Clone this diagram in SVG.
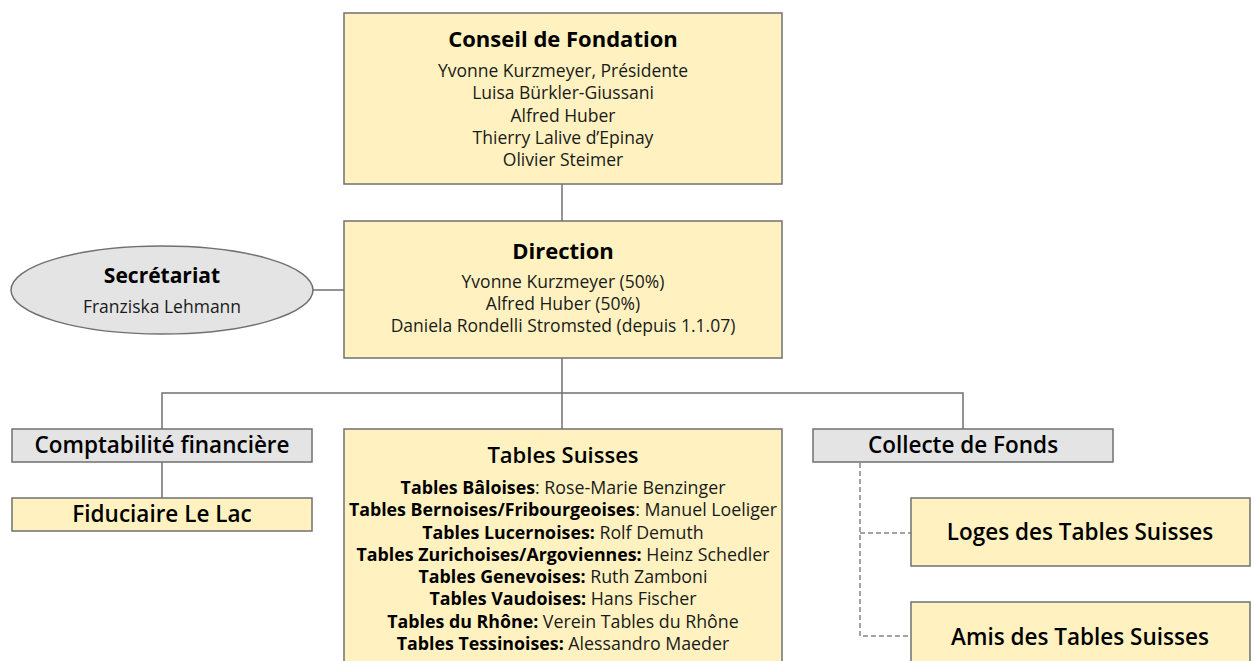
<svg xmlns="http://www.w3.org/2000/svg" width="1254" height="661" viewBox="0 0 1254 661">
<style>
.y{fill:#FFF2C0;stroke:#707070;stroke-width:1.5}
.g{fill:#E3E4E3;stroke:#707070;stroke-width:1.5}
.ln{fill:none;stroke:#707070;stroke-width:1.5}
.dl{fill:none;stroke:#858585;stroke-width:1.5;stroke-dasharray:5 3}
text{font-family:"Open Sans","Noto Sans","Liberation Sans",sans-serif;fill:#1a1a1a;text-anchor:middle}
.t{font-size:22px;font-weight:bold;fill:#000}
.h{font-size:22.5px;font-weight:600;fill:#000}
.b{font-size:17.5px}
.s{font-size:17.8px}
.s tspan.k{font-weight:bold;fill:#000}
</style>
<rect width="1254" height="661" fill="#fff"/>
<g id="connectors">
<line class="ln" x1="562" y1="184" x2="562" y2="221"/>
<line class="ln" x1="313" y1="290" x2="344" y2="290"/>
<line class="ln" x1="562" y1="358" x2="562" y2="429"/>
<polyline class="ln" points="162,429 162,393 963,393 963,429"/>
<line class="ln" x1="162" y1="462" x2="162" y2="498"/>
<polyline class="dl" points="860,463 860,636 911,636"/>
<line class="dl" x1="860" y1="533" x2="911" y2="533"/>
</g>
<g id="conseil">
<rect class="y" x="344" y="13" width="438" height="171"/>
<text class="t" x="563" y="47">Conseil de Fondation</text>
<text class="b" x="563" y="77">Yvonne Kurzmeyer, Présidente</text>
<text class="b" x="563" y="99">Luisa Bürkler-Giussani</text>
<text class="b" x="563" y="122">Alfred Huber</text>
<text class="b" x="563" y="144">Thierry Lalive d’Epinay</text>
<text class="b" x="563" y="166">Olivier Steimer</text>
</g>
<g id="direction">
<rect class="y" x="344" y="221" width="438" height="137"/>
<text class="t" x="563" y="259">Direction</text>
<text class="b" x="563" y="288">Yvonne Kurzmeyer (50%)</text>
<text class="b" x="563" y="310">Alfred Huber (50%)</text>
<text class="b" x="563" y="332">Daniela Rondelli Stromsted (depuis 1.1.07)</text>
</g>
<g id="secretariat">
<ellipse class="g" cx="162" cy="290" rx="151" ry="44"/>
<text class="t" x="162" y="283" style="font-size:21px">Secrétariat</text>
<text class="b" x="162" y="313">Franziska Lehmann</text>
</g>
<g id="comptabilite">
<rect class="g" x="12" y="429" width="300" height="33"/>
<text class="h" x="162" y="453">Comptabilité financière</text>
</g>
<g id="fiduciaire">
<rect class="y" x="12" y="498" width="300" height="33"/>
<text class="h" x="162" y="522">Fiduciaire Le Lac</text>
</g>
<g id="tables-suisses">
<rect class="y" x="344" y="429" width="438" height="250"/>
<text class="h" x="563" y="463" style="font-size:22px">Tables Suisses</text>
<text class="s" x="563" y="494"><tspan class="k">Tables Bâloises</tspan>: Rose-Marie Benzinger</text>
<text class="s" x="563" y="516"><tspan class="k">Tables Bernoises/Fribourgeoises</tspan>: Manuel Loeliger</text>
<text class="s" x="563" y="539"><tspan class="k">Tables Lucernoises:</tspan> Rolf Demuth</text>
<text class="s" x="563" y="561"><tspan class="k">Tables Zurichoises/Argoviennes:</tspan> Heinz Schedler</text>
<text class="s" x="563" y="583"><tspan class="k">Tables Genevoises:</tspan> Ruth Zamboni</text>
<text class="s" x="563" y="605"><tspan class="k">Tables Vaudoises:</tspan> Hans Fischer</text>
<text class="s" x="563" y="628"><tspan class="k">Tables du Rhône:</tspan> Verein Tables du Rhône</text>
<text class="s" x="563" y="650"><tspan class="k">Tables Tessinoises:</tspan> Alessandro Maeder</text>
</g>
<g id="collecte">
<rect class="g" x="813" y="429" width="300" height="33"/>
<text class="h" x="963" y="453">Collecte de Fonds</text>
</g>
<g id="loges">
<rect class="y" x="911" y="498" width="339" height="68"/>
<text class="h" x="1080" y="540">Loges des Tables Suisses</text>
</g>
<g id="amis">
<rect class="y" x="911" y="602" width="339" height="80"/>
<text class="h" x="1080" y="645">Amis des Tables Suisses</text>
</g>
</svg>
